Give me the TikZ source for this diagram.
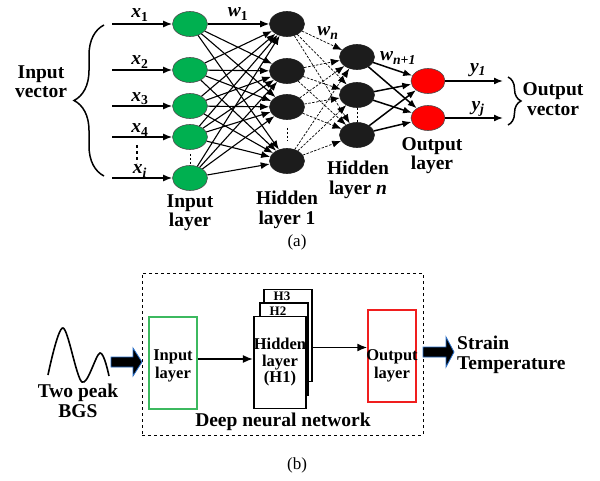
\documentclass[tikz,border=0pt]{standalone}
\usepackage{fontspec}
\setmainfont{Liberation Serif}
\usetikzlibrary{arrows.meta,shapes.geometric,decorations.pathreplacing,calc}
\definecolor{ngreen}{RGB}{0,176,80}
\definecolor{nblack}{RGB}{28,28,28}
\definecolor{bgreen}{RGB}{60,185,95}
\definecolor{bred}{RGB}{240,30,30}
\definecolor{ablue}{RGB}{40,110,200}
\begin{document}
\begin{tikzpicture}[x=1pt,y=-1pt,
  neuron/.style={ellipse, minimum width=35pt, minimum height=25pt, inner sep=0pt, draw=gray!60!black, line width=0.6pt},
  inn/.style={neuron, fill=ngreen},
  hid/.style={neuron, fill=nblack, draw=nblack},
  outn/.style={neuron, fill=red, minimum width=34pt},
  lbl/.style={font=\fontsize{19.5}{19.5}\selectfont\bfseries, align=center, inner sep=0pt},
  mlbl/.style={font=\fontsize{19.5}{19.5}\selectfont\bfseries\itshape, inner sep=0pt},
  sublbl/.style={font=\fontsize{16.5}{17.5}\selectfont\bfseries, align=center, inner sep=0pt},
  conn/.style={-{Latex[length=9pt,width=7pt]}, line width=1.1pt},
  dconn/.style={-{Latex[length=9pt,width=7pt]}, line width=0.7pt, dash pattern=on 2.5pt off 1.5pt},
  oconn/.style={-{Latex[length=9pt,width=7pt]}, line width=1.5pt},
  vdots/.style={line width=1pt, dash pattern=on 2pt off 2pt},
  hbox/.style={draw, line width=1.8pt, minimum width=48pt, minimum height=92pt, inner sep=0pt, align=center, font=\fontsize{16.5}{16.5}\selectfont\bfseries},
  tarrow/.style={-{Latex[length=10pt,width=8pt]}, line width=1.6pt},
  barrow/.style={fill=black, draw=ablue, line width=0.8pt}
]
\useasboundingbox (0,0) rectangle (600,481);

% ---------------- (a) ----------------
\node[inn] (i1) at (190,24) {};
\node[inn] (i2) at (190,70) {};
\node[inn] (i3) at (190,106) {};
\node[inn] (i4) at (190,137) {};
\node[inn] (i5) at (190,178) {};

\node[hid] (h1) at (287,24) {};
\node[hid] (h2) at (287,71) {};
\node[hid] (h3) at (287,107) {};
\node[hid] (h4) at (287,161) {};

\node[hid] (n1) at (357,57) {};
\node[hid] (n2) at (357,95) {};
\node[hid] (n3) at (357,135) {};

\node[outn] (o1) at (428,81) {};
\node[outn] (o2) at (428,118) {};

\foreach \a in {i1,i2,i3,i4,i5}
  \foreach \b in {h1,h2,h3,h4}
    \draw[conn] (\a) -- (\b);
\foreach \a in {h1,h2,h3,h4}
  \foreach \b in {n1,n2,n3}
    \draw[dconn] (\a) -- (\b);
\foreach \a in {n1,n2,n3}
  \foreach \b in {o1,o2}
    \draw[oconn] (\a) -- (\b);

% inputs
\foreach \k/\n in {1/i1,2/i2,3/i3,4/i4,5/i5}
  \coordinate (s\k) at (112,0 |- \n);
\foreach \k/\n in {1/i1,2/i2,3/i3,4/i4,5/i5}
  \draw[oconn] (s\k) -- (\n);
\node[mlbl] (lx1) at (140,15) {x\textsubscript{\upshape 1}};
\node[mlbl] (lx2) at (140,62) {x\textsubscript{\upshape 2}};
\node[mlbl] (lx3) at (140,99) {x\textsubscript{\upshape 3}};
\node[mlbl] (lx4) at (140,130) {x\textsubscript{\upshape 4}};
\node[mlbl] (lx5) at (140,171) {x\textsubscript{i}};
\coordinate (d1) at (137,145);
\coordinate (d2) at (137,163);
\draw[line width=2.2pt, dash pattern=on 3pt off 3pt] (d1) -- (d2);

% vertical dots
\draw[vdots] ([yshift=-4pt]i4.south) -- (i5.north);
\draw[vdots, shorten <=8pt, shorten >=8pt] (h3.south) -- (h4.north);
\draw[vdots] (n2.south) -- (n3.north);

% outputs
\coordinate (e1) at (503,81);
\coordinate (e2) at (503,118);
\draw[oconn] (o1) -- (e1);
\draw[oconn] (o2) -- (e2);
\node[mlbl] (ly1) at (478,70) {y\textsubscript{1}};
\node[mlbl] (lyj) at (478,109) {y\textsubscript{j}};

% weights
\node[mlbl] (lw1) at (238,14) {w\textsubscript{\upshape 1}};
\node[mlbl] (lwn) at (328,33) {w\textsubscript{n}};
\node[mlbl] (lwn1) at (398,58) {w\textsubscript{n+1}};

% braces
\coordinate (bl1) at (104,176);
\coordinate (bl2) at (104,25);
\draw[decorate, decoration={brace, amplitude=30pt}, line width=1.5pt] (bl1) -- (bl2);
\coordinate (br1) at (508,77);
\coordinate (br2) at (508,125);
\draw[decorate, decoration={brace, amplitude=13pt}, line width=1.5pt] (br1) -- (br2);

% labels
\node[lbl] (tinv) at (41,81.5) {Input\\vector};
\node[lbl] (toutv) at (553,99) {Output\\vector};
\node[lbl] (til) at (190,212.5) {Input\\layer};
\node[lbl] (th1) at (287,210) {Hidden\\layer 1};
\node[lbl] (thn) at (358,180) {Hidden\\layer \textit{n}};
\node[lbl] (tol) at (432,155.5) {Output\\layer};
\node[font=\fontsize{17}{17}\selectfont, inner sep=0pt] (capa) at (297,242) {(a)};

% ---------------- (b) ----------------
\node[draw, dashed, line width=0.7pt, minimum width=281pt, minimum height=162pt, inner sep=0pt] (dnn) at (282.5,354) {};
\node[lbl] (tdnn) at (283,422) {Deep neural network};

\node[draw=bgreen, line width=1.4pt, minimum width=48pt, minimum height=92pt, inner sep=0pt] (inl) at (173,363) {};
\node[sublbl] (tinl) at (173,366) {Input\\layer};

\node[hbox] (H3) at (288,335.5) {};
\node[hbox, fill=white] (H2) at (284,349) {};
\node[hbox, fill=white] (H1) at (280,362.5) {Hidden\\layer\\(H1)};
\node[font=\fontsize{13}{13}\selectfont\bfseries, inner sep=0pt] (tH3) at (282,296) {H3};
\node[font=\fontsize{13}{13}\selectfont\bfseries, inner sep=0pt] (tH2) at (278,311) {H2};

\node[draw=bred, line width=1.4pt, minimum width=48pt, minimum height=92pt, inner sep=0pt] (outl) at (392,356) {};
\node[sublbl] (toutl) at (392,366) {Output\\layer};

\draw[tarrow] ([yshift=4pt]inl.east) -- ([yshift=4pt]inl.east -| H1.west);
\draw[tarrow] ([yshift=-12pt]H3.east) -- ([yshift=-12pt]H3.east -| outl.west);

% wave
\draw[line width=1.6pt] plot[smooth, tension=0.55] coordinates {(48,375) (63,328) (82,382) (100,353) (109,376)};
\node[lbl] (tbgs) at (78,401) {Two peak\\BGS};

% block arrows
\coordinate (ta) at (142,362);
\filldraw[barrow] (ta) -- ++(-9,-14) -- ++(0,9) -- ++(-22,0) -- ++(0,10) -- ++(22,0) -- ++(0,9) -- cycle;
\coordinate (tb) at (454,352);
\filldraw[barrow] (tb) -- ++(-8,-15) -- ++(0,10) -- ++(-23,0) -- ++(0,10) -- ++(23,0) -- ++(0,10) -- cycle;
\node[font=\fontsize{19.5}{20}\selectfont\bfseries, align=left, inner sep=0pt, anchor=west] (tst) at (457,355) {Strain\\Temperature};

\node[font=\fontsize{17}{17}\selectfont, inner sep=0pt] (capb) at (297,465) {(b)};
\end{tikzpicture}
\end{document}
